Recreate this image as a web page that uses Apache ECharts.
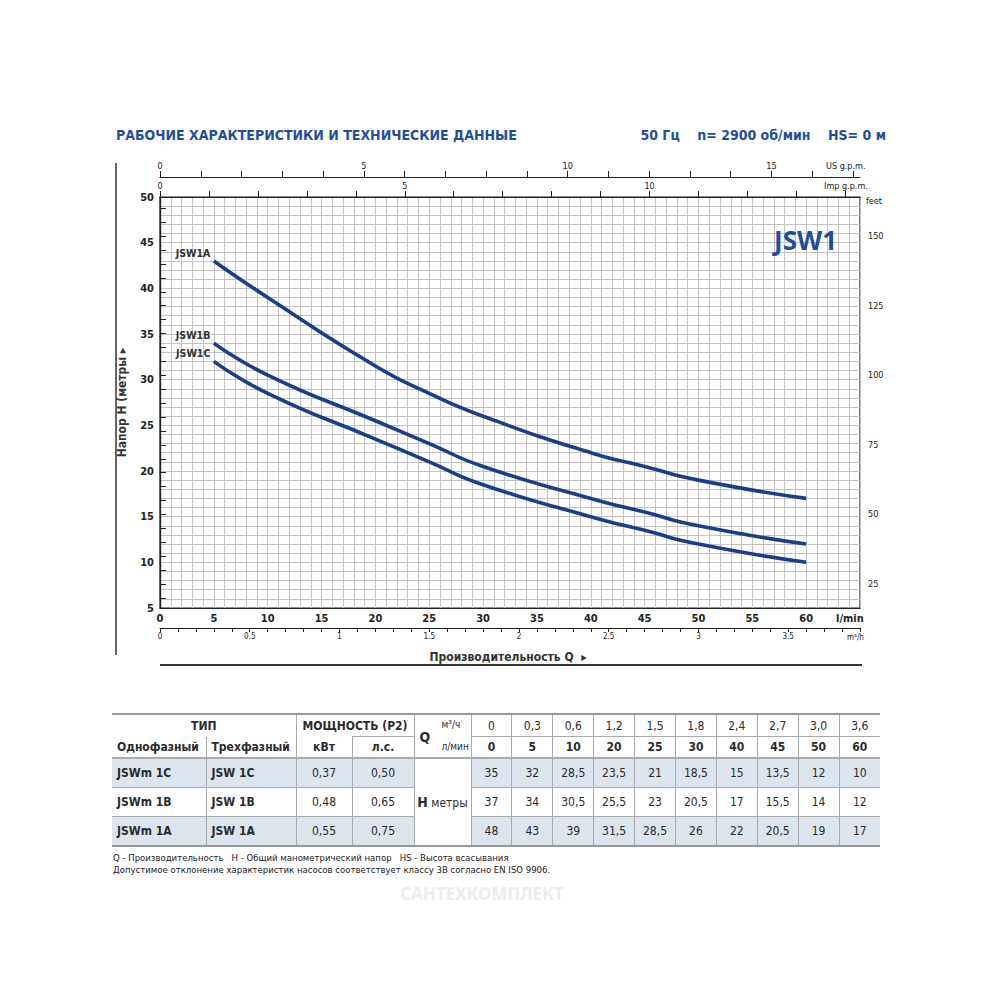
<!DOCTYPE html>
<html><head><meta charset="utf-8">
<script src="https://cdn.jsdelivr.net/npm/echarts@6/dist/echarts.min.js"></script>
<style>
html,body{margin:0;padding:0;background:#fff;}
#chart{position:absolute;left:0;top:0;width:1000px;height:1000px;}
#tbl{position:absolute;left:112px;top:713px;width:768px;border-collapse:collapse;table-layout:fixed;
 font-family:"DejaVu Sans Condensed","Liberation Sans Narrow",sans-serif;font-stretch:condensed;color:#2b2b2b;font-size:12px;}
#tbl td{padding:0;border-left:1px solid #aaa;border-top:1px solid #aaa;text-align:center;white-space:nowrap;overflow:visible;}
#tbl tr.h1 td{border-top:2px solid #999;height:21px;}
#tbl tr.h2 td{height:20px;}
#tbl tr.h2 td.nt{border-top:none;}
#tbl tr.r td{height:28px;}
#tbl tr.r1 td{border-top:2px solid #aaa;}
#tbl tr.r3 td{border-bottom:2px solid #999;}
#tbl td.nl{border-left:none;}
#tbl td.b{font-weight:bold;}
#tbl td.l{text-align:left;padding-left:5px;}
#tbl tr.sh td.s{background:#dce4ed;}
#tbl td.hm{background:#fff;border-bottom:2px solid #999;}
</style></head><body>
<div id="chart"></div>
<table id="tbl"></table>
<script>
// ---------- data ----------
const flowLmin = [5, 10, 20, 25, 30, 40, 45, 50, 60];
const head1A = [43, 39, 31.5, 28.5, 26, 22, 20.5, 19, 17];
const head1B = [34, 30.5, 25.5, 23, 20.5, 17, 15.5, 14, 12];
const head1C = [32, 28.5, 23.5, 21, 18.5, 15, 13.5, 12, 10];

const usGpmTicks = [0,1,2,3,4,5,6,7,8,9,10,11,12,13,14,15,16,17];
const usGpmLabels = [0, 5, 10, 15];
const impGpmTicks = [0,1,2,3,4,5,6,7,8,9,10,11,12,13,14];
const impGpmLabels = [0, 5, 10];
const m3hLabels = [0, 0.5, 1, 1.5, 2, 2.5, 3, 3.5];
const feetTicks = [20,25,30,35,40,45,50,55,60,65,70,75,80,85,90,95,100,105,110,115,120,125,130,135,140,145,150,155,160];
const feetLabels = [25, 50, 75, 100, 125, 150];

// table
const tblM3h = ['0','0,3','0,6','1,2','1,5','1,8','2,4','2,7','3,0','3,6'];
const tblLmin = ['0','5','10','20','25','30','40','45','50','60'];
const tblModels1 = ['JSWm 1C', 'JSWm 1B', 'JSWm 1A'];
const tblModels3 = ['JSW 1C', 'JSW 1B', 'JSW 1A'];
const tblKw = ['0,37', '0,48', '0,55'];
const tblHp = ['0,50', '0,65', '0,75'];
const tblH1C = ['35','32','28,5','23,5','21','18,5','15','13,5','12','10'];
const tblH1B = ['37','34','30,5','25,5','23','20,5','17','15,5','14','12'];
const tblH1A = ['48','43','39','31,5','28,5','26','22','20,5','19','17'];

// ---------- table ----------
(function(){
  const t = document.getElementById('tbl');
  let h = '<colgroup>' + [94,90,56,62,57].map(w=>'<col style="width:'+w+'px">').join('') +
    tblLmin.map(()=>'<col style="width:40.9px">').join('') + '</colgroup>';
  h += '<tr class="h1"><td colspan="2" class="b nl">ТИП</td><td colspan="2" class="b">МОЩНОСТЬ (P2)</td>' +
    '<td rowspan="2" style="position:relative;border-bottom:2px solid #aaa"><div style="position:relative;height:41px">' +
    '<span style="position:absolute;left:5px;top:13px;font-weight:bold;font-size:14px">Q</span>' +
    '<span style="position:absolute;left:27px;top:3px;font-size:10px">м³/ч</span>' +
    '<span style="position:absolute;left:27px;top:25px;font-size:10px">л/мин</span></div></td>' +
    tblM3h.map(v=>'<td>'+v+'</td>').join('') + '</tr>';
  h += '<tr class="h2"><td class="b l nl nt">Однофазный</td><td class="b l nt">Трехфазный</td><td class="b nt">кВт</td><td class="b">л.с.</td>' +
    tblLmin.map(v=>'<td class="b">'+v+'</td>').join('') + '</tr>';
  const hs = [tblH1C, tblH1B, tblH1A];
  for (let i=0;i<3;i++){
    const cls = 'r r'+(i+1)+(i!==1?' sh':'');
    h += '<tr class="'+cls+'"><td class="b l nl s">'+tblModels1[i]+'</td><td class="b l s">'+tblModels3[i]+'</td>' +
      '<td class="s">'+tblKw[i]+'</td><td class="s">'+tblHp[i]+'</td>';
    if (i===0) h += '<td rowspan="3" class="hm"><span style="font-weight:bold;font-size:14px">H</span> <span>метры</span></td>';
    h += hs[i].map(v=>'<td class="s">'+v+'</td>').join('') + '</tr>';
  }
  t.innerHTML = h;
})();

// ---------- chart ----------
const FONT = '"DejaVu Sans Condensed","Liberation Sans Narrow",sans-serif';
const BLUE = '#1f4f9c';
const CURVE = '#193f8c';
const GRIDC = '#c3c3c3';
const AX = '#222';

const chart = echarts.init(document.getElementById('chart'), null, {renderer:'svg', width:1000, height:1000});

function curve(name, hv){
  return {
    type:'line', name:name, xAxisIndex:0, yAxisIndex:0, smooth:0.55, symbol:'none',
    lineStyle:{width:3.6, color:CURVE}, z:5,
    data: flowLmin.map((q,i)=>[q, hv[i]]),
    markPoint:{symbol:'circle', symbolSize:1, itemStyle:{color:'rgba(0,0,0,0)'}, silent:true,
      label:{show:true, formatter:name, position:'left', distance:3, offset:[0,-8],
        color:'#333', fontSize:10.5, fontWeight:'bold', fontFamily:FONT},
      data:[{coord:[flowLmin[0], hv[0]]}]}
  };
}

const smallLbl = {color:AX, fontSize:9, fontFamily:FONT};

const option = {
  animation:false,
  backgroundColor:'#fff',
  grid:[{left:160, top:197, width:700, height:411, show:true, borderColor:AX, borderWidth:1.2, backgroundColor:'transparent'}],
  xAxis:[
    {type:'value', min:0, max:65, interval:5, position:'bottom',
      axisLine:{show:true, lineStyle:{color:AX, width:1.2}}, axisTick:{show:false},
      axisLabel:{color:AX, fontSize:11, fontWeight:'bold', fontFamily:FONT, margin:5,
        formatter:v=> v>=65 ? '' : String(v)},
      splitLine:{show:true, lineStyle:{color:GRIDC, width:1}},
      minorTick:{show:false, splitNumber:5}, minorSplitLine:{show:true, lineStyle:{color:GRIDC, width:1}}},
    {type:'value', min:0, max:3.9, interval:0.1, position:'bottom', offset:20,
      axisLine:{show:true, lineStyle:{color:AX, width:1}},
      axisTick:{show:true, length:4, lineStyle:{color:AX}},
      axisLabel:Object.assign({customValues:m3hLabels, margin:4, fontSize:8, formatter:v=>String(v)}, {color:AX, fontFamily:FONT}),
      splitLine:{show:false}},
    {type:'value', min:0, max:65/4.54609, position:'top', offset:0,
      axisLine:{show:true, lineStyle:{color:AX, width:1.2}},
      axisTick:{show:true, customValues:impGpmTicks, length:6, lineStyle:{color:AX}},
      axisLabel:Object.assign({customValues:impGpmLabels, margin:7}, smallLbl),
      splitLine:{show:false}},
    {type:'value', min:0, max:65/3.78541, position:'top', offset:20,
      axisLine:{show:true, lineStyle:{color:AX, width:1.2}},
      axisTick:{show:true, customValues:usGpmTicks, length:6, lineStyle:{color:AX}},
      axisLabel:Object.assign({customValues:usGpmLabels, margin:7}, smallLbl),
      splitLine:{show:false}}
  ],
  yAxis:[
    {type:'value', min:5, max:50, interval:5, position:'left',
      name:'Напор H (метры ▸', nameLocation:'middle', nameGap:32,
      nameTextStyle:{color:'#333', fontSize:12, fontWeight:'bold', fontFamily:FONT},
      axisLine:{show:true, lineStyle:{color:AX, width:1.2}}, axisTick:{show:false},
      axisLabel:{color:AX, fontSize:11, fontWeight:'bold', fontFamily:FONT, margin:6},
      splitLine:{show:true, lineStyle:{color:GRIDC, width:1}},
      minorTick:{show:false, splitNumber:5}, minorSplitLine:{show:true, lineStyle:{color:GRIDC, width:1}}},
    {type:'value', min:5*3.28084, max:50*3.28084, position:'right',
      axisLine:{show:true, lineStyle:{color:AX, width:1.2}},
      axisTick:{show:true, customValues:feetTicks, length:6, lineStyle:{color:AX}},
      axisLabel:Object.assign({customValues:feetLabels, margin:8}, smallLbl),
      splitLine:{show:false}}
  ],
  series:[ curve('JSW1A', head1A), curve('JSW1B', head1B), curve('JSW1C', head1C) ],
  graphic:[
    {type:'text', x:116, y:135, z:10, style:{text:'РАБОЧИЕ ХАРАКТЕРИСТИКИ И ТЕХНИЧЕСКИЕ ДАННЫЕ', fill:BLUE,
      fontSize:14, fontWeight:'bold', fontFamily:FONT, align:'left', verticalAlign:'middle'}},
    {type:'text', x:886, y:135, z:10, style:{text:'50 Гц    n= 2900 об/мин    HS= 0 м', fill:BLUE,
      fontSize:14, fontWeight:'bold', fontFamily:FONT, align:'right', verticalAlign:'middle'}},
    {type:'text', x:837, y:240, z:10, style:{text:'JSW1', fill:BLUE, fontSize:26, fontWeight:'bold',
      fontFamily:'"Open Sans","Noto Sans",sans-serif', align:'right', verticalAlign:'middle'}},
    {type:'text', x:826, y:166, z:10, style:{text:'US g.p.m.', fill:AX, fontSize:9, fontFamily:FONT, align:'left', verticalAlign:'middle'}},
    {type:'text', x:824, y:186, z:10, style:{text:'Imp g.p.m.', fill:AX, fontSize:9, fontFamily:FONT, align:'left', verticalAlign:'middle'}},
    {type:'text', x:866, y:201, z:10, style:{text:'feet', fill:AX, fontSize:9, fontFamily:FONT, align:'left', verticalAlign:'middle'}},
    {type:'text', x:836, y:618, z:10, style:{text:'l/min', fill:AX, fontSize:11, fontWeight:'bold', fontFamily:FONT, align:'left', verticalAlign:'middle'}},
    {type:'text', x:847, y:637, z:10, style:{text:'m³/h', fill:AX, fontSize:8, fontFamily:FONT, align:'left', verticalAlign:'middle'}},
    {type:'text', x:508, y:657, z:10, style:{text:'Производительность Q  ▸', fill:'#333', fontSize:12, fontWeight:'bold', fontFamily:FONT, align:'center', verticalAlign:'middle'}},
    {type:'line', z:10, shape:{x1:116, y1:163, x2:116, y2:655}, style:{stroke:'#333', lineWidth:1.5}},
    {type:'line', z:10, shape:{x1:160, y1:665, x2:862, y2:665}, style:{stroke:'#333', lineWidth:2}},
    {type:'text', x:113, y:857, z:10, style:{text:'Q - Производительность   H - Общий манометрический напор   HS - Высота всасывания', fill:'#222', fontSize:9.5, fontFamily:FONT, align:'left', verticalAlign:'middle'}},
    {type:'text', x:113, y:869, z:10, style:{text:'Допустимое отклонение характеристик насосов соответствует классу 3B согласно EN ISO 9906.', fill:'#222', fontSize:9.5, fontFamily:FONT, align:'left', verticalAlign:'middle'}},
    {type:'text', x:400, y:893, z:1, style:{text:'САНТЕХКОМПЛЕКТ', fill:'#ececec', fontSize:17, fontWeight:'bold', fontFamily:'"Noto Sans",sans-serif', align:'left', verticalAlign:'middle'}}
  ]
};
chart.setOption(option);
</script>
</body></html>
